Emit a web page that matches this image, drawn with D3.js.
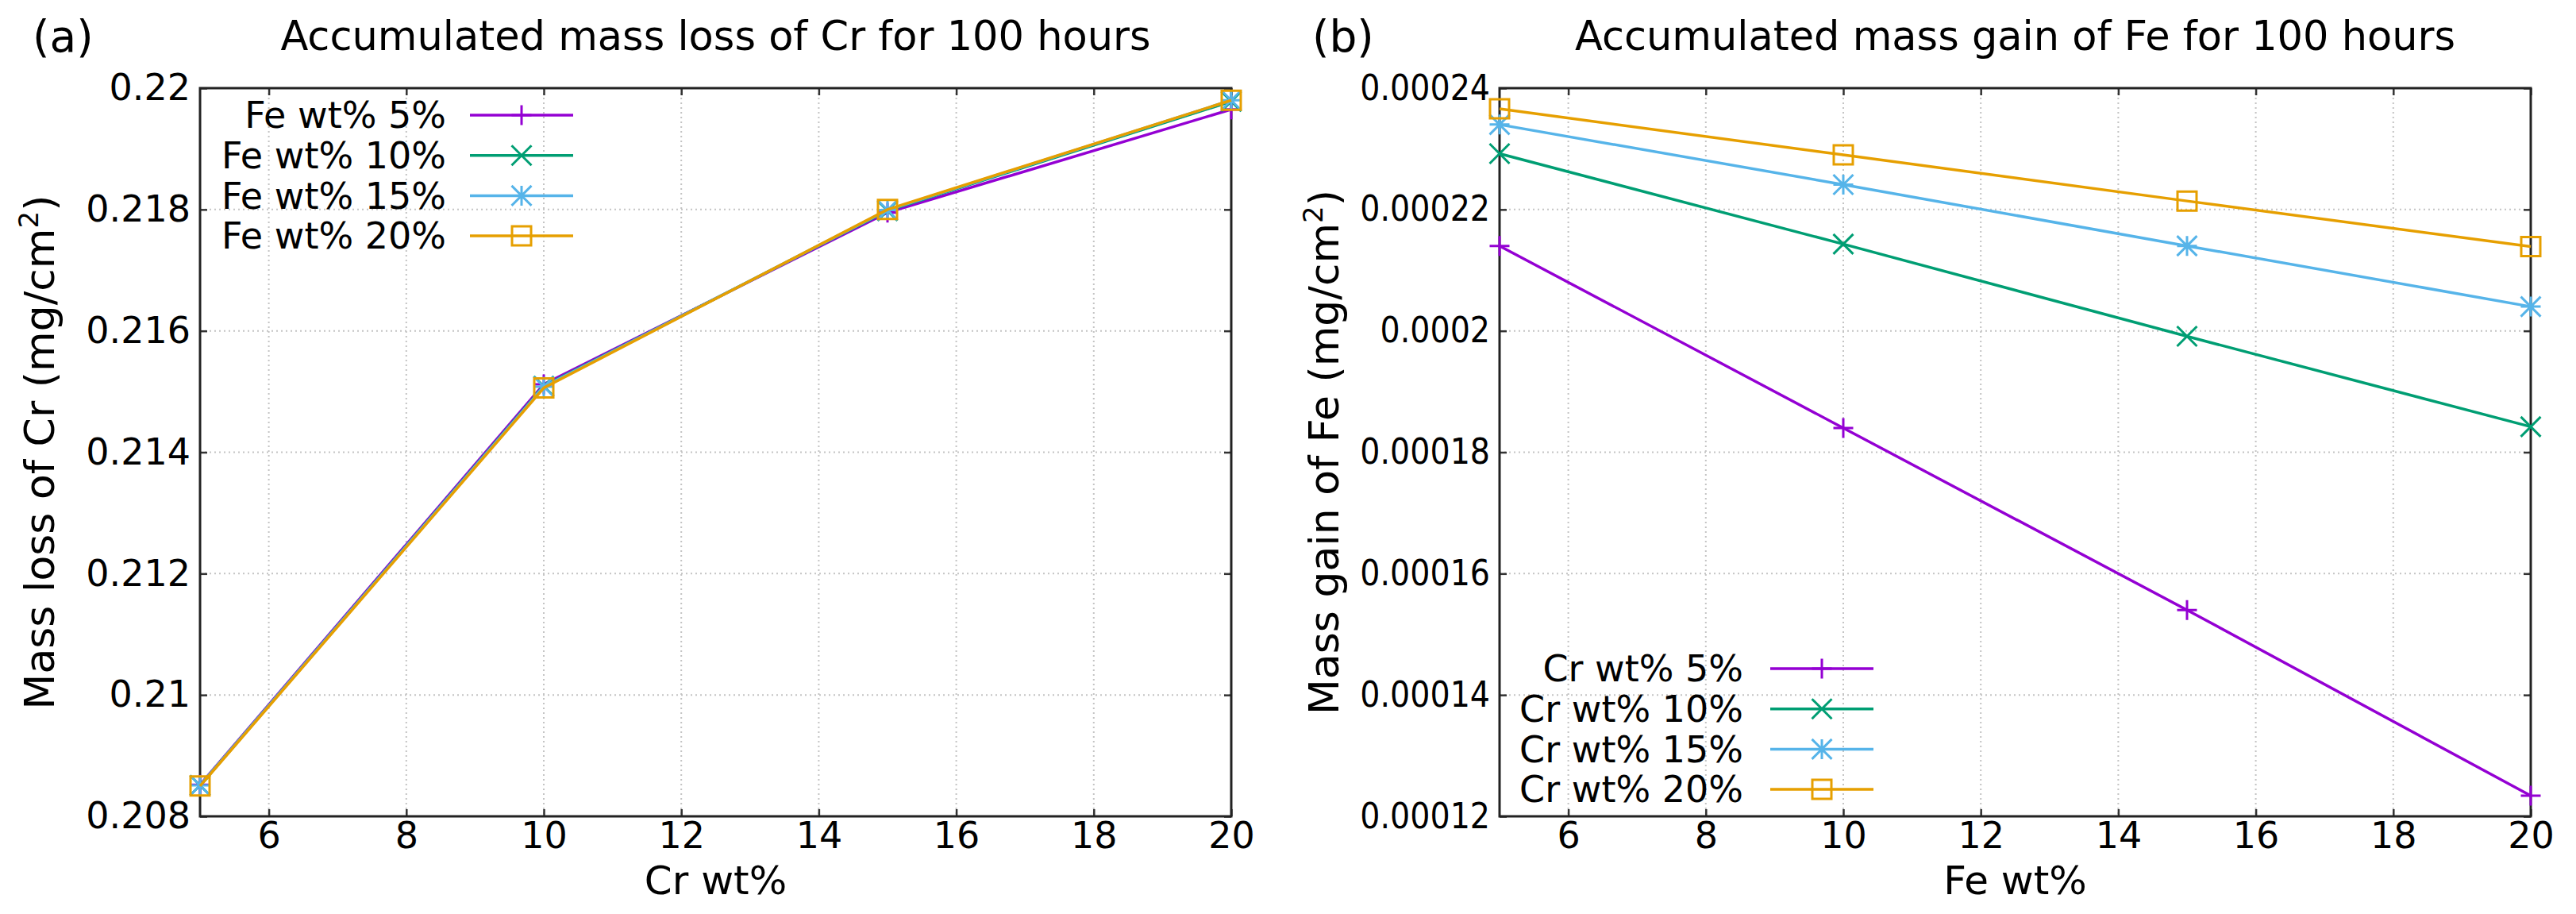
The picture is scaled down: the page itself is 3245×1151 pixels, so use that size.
<!DOCTYPE html>
<html>
<head>
<meta charset="utf-8">
<script src="https://cdn.jsdelivr.net/npm/d3@7"></script>
<style>
body{margin:0;background:#fff;}
text{font-family:"DejaVu Sans",sans-serif;fill:#000;}
</style>
</head>
<body>
<svg id="chart" width="3245" height="1151"></svg>
<script>
// x values shared by both panels (wt%)
const xValues=[5,10,15,20];
const xTicks=[6,8,10,12,14,16,18,20];

// (a) mass loss of Cr
const lossNames=["Fe wt% 5%","Fe wt% 10%","Fe wt% 15%","Fe wt% 20%"];
const lossFe5=[0.20852,0.21512,0.21795,0.21965];
const lossFe10=[0.20851,0.21509,0.21798,0.21978];
const lossFe15=[0.20851,0.21508,0.21799,0.21980];
const lossFe20=[0.20850,0.21506,0.21800,0.21980];
const lossTicks=[0.208,0.21,0.212,0.214,0.216,0.218,0.22];
const lossTickLabels=["0.208","0.21","0.212","0.214","0.216","0.218","0.22"];

// (b) mass gain of Fe
const gainNames=["Cr wt% 5%","Cr wt% 10%","Cr wt% 15%","Cr wt% 20%"];
const gainCr5=[0.000214,0.000184,0.000154,0.0001234];
const gainCr10=[0.0002292,0.0002143,0.0001991,0.0001842];
const gainCr15=[0.000234,0.0002241,0.000214,0.000204];
const gainCr20=[0.0002366,0.000229,0.0002214,0.0002139];
const gainTicks=[0.00012,0.00014,0.00016,0.00018,0.0002,0.00022,0.00024];
const gainTickLabels=["0.00012","0.00014","0.00016","0.00018","0.0002","0.00022","0.00024"];

const colors=['#9400d3','#009e73','#56b4e9','#e69f00'];
const symbols=['plus','cross','star','square'];

const svg=d3.select('#chart');

function symbolPath(kind,r){
  if(kind==='plus') return `M${-r},0H${r}M0,${-r}V${r}`;
  if(kind==='cross') return `M${-r},${-r}L${r},${r}M${-r},${r}L${r},${-r}`;
  if(kind==='star') return `M${-r},0H${r}M0,${-r}V${r}M${-r},${-r}L${r},${r}M${-r},${r}L${r},${-r}`;
  return `M${-r},${-r}H${r}V${r}H${-r}Z`;
}

function drawPanel(p){
  const x=d3.scaleLinear().domain([5,20]).range([p.left,p.right]);
  const y=d3.scaleLinear().domain(p.yDomain).range([p.bottom,p.top]);
  const g=svg.append('g');

  // grid
  g.selectAll('.gx').data(xTicks.filter(t=>t<20)).join('line')
    .attr('x1',d=>x(d)).attr('x2',d=>x(d)).attr('y1',p.top).attr('y2',p.bottom)
    .attr('stroke','#c4c4c4').attr('stroke-width',2).attr('stroke-dasharray','2,4');
  g.selectAll('.gy').data(p.yTicks.slice(1,-1)).join('line')
    .attr('x1',p.left).attr('x2',p.right).attr('y1',d=>y(d)).attr('y2',d=>y(d))
    .attr('stroke','#c4c4c4').attr('stroke-width',2).attr('stroke-dasharray','2,4');

  // axes with inward ticks, mirrored
  const ax=d3.axisBottom(x).tickValues(xTicks).tickSize(-9).tickPadding(7).tickFormat(d3.format('d'));
  const axTop=d3.axisTop(x).tickValues(xTicks).tickSize(-9).tickFormat('');
  const ay=d3.axisLeft(y).tickValues(p.yTicks).tickSize(-9).tickPadding(12).tickFormat((d,i)=>p.yLabels[i]);
  const ayRight=d3.axisRight(y).tickValues(p.yTicks).tickSize(-9).tickFormat('');

  const gx=g.append('g').attr('transform',`translate(0,${p.bottom})`).call(ax);
  g.append('g').attr('transform',`translate(0,${p.top})`).call(axTop);
  const gy=g.append('g').attr('transform',`translate(${p.left},0)`).call(ay);
  g.append('g').attr('transform',`translate(${p.right},0)`).call(ayRight);
  g.selectAll('.domain').remove();
  g.selectAll('.tick line').attr('stroke','#333').attr('stroke-width',2.5);
  gx.selectAll('text').attr('font-size',46).attr('font-family','DejaVu Sans').attr('fill','#000');
  gy.selectAll('text').attr('font-size',p.yFontSize).attr('font-family',p.yFont)
    .attr('font-stretch',p.yStretch).attr('fill','#000');

  // frame
  g.append('rect').attr('x',p.left).attr('y',p.top)
    .attr('width',p.right-p.left).attr('height',p.bottom-p.top)
    .attr('fill','none').attr('stroke','#222').attr('stroke-width',3);

  // series
  const line=d3.line().x((d,i)=>x(xValues[i])).y(d=>y(d));
  p.series.forEach((s,k)=>{
    g.append('path').attr('d',line(s)).attr('fill','none')
      .attr('stroke',colors[k]).attr('stroke-width',3.5);
    g.selectAll(null).data(s).join('path')
      .attr('transform',(d,i)=>`translate(${x(xValues[i])},${y(d)})`)
      .attr('d',symbolPath(symbols[k],symbols[k]==='square'?12:12.5))
      .attr('fill','none').attr('stroke',colors[k]).attr('stroke-width',3);
  });

  // legend
  p.names.forEach((n,k)=>{
    const ly=p.legendY+k*50.7;
    g.append('text').attr('x',p.legendTextX).attr('y',ly).attr('dy','0.35em')
      .attr('text-anchor','end').attr('font-size',46).text(n);
    g.append('line').attr('x1',p.legendLineX).attr('x2',p.legendLineX+130)
      .attr('y1',ly).attr('y2',ly).attr('stroke',colors[k]).attr('stroke-width',3.5);
    g.append('path').attr('transform',`translate(${p.legendLineX+65},${ly})`)
      .attr('d',symbolPath(symbols[k],symbols[k]==='square'?12:12.5))
      .attr('fill','none').attr('stroke',colors[k]).attr('stroke-width',3);
  });

  // titles
  g.append('text').attr('x',(p.left+p.right)/2).attr('y',63)
    .attr('text-anchor','middle').attr('font-size',51).text(p.title);
  g.append('text').attr('x',(p.left+p.right)/2).attr('y',1126)
    .attr('text-anchor','middle').attr('font-size',50).text(p.xTitle);
  const yt=g.append('text').attr('transform',`translate(${p.yTitleX},${(p.top+p.bottom)/2}) rotate(-90)`)
    .attr('text-anchor','middle').attr('font-size',52);
  yt.append('tspan').text(p.yTitle+' (mg/cm');
  yt.append('tspan').attr('font-size',34).attr('dy',-20).text('2');
  yt.append('tspan').attr('dy',20).text(')');
  g.append('text').attr('x',p.labelX).attr('y',65).attr('font-size',55)
    .attr('font-family','Noto Sans').text(p.label);
}

drawPanel({
  left:252,right:1551,top:111,bottom:1028,
  yDomain:[0.208,0.22],yTicks:lossTicks,yLabels:lossTickLabels,
  yFont:'DejaVu Sans',yFontSize:46,yStretch:'normal',
  series:[lossFe5,lossFe10,lossFe15,lossFe20],names:lossNames,
  legendY:145,legendTextX:562,legendLineX:592,
  title:'Accumulated mass loss of Cr for 100 hours',xTitle:'Cr wt%',
  yTitle:'Mass loss of Cr',yTitleX:68,label:'(a)',labelX:41
});

drawPanel({
  left:1889,right:3188,top:111,bottom:1028,
  yDomain:[0.00012,0.00024],yTicks:gainTicks,yLabels:gainTickLabels,
  yFont:'DejaVu Sans Condensed, DejaVu Sans',yFontSize:44,yStretch:'condensed',
  series:[gainCr5,gainCr10,gainCr15,gainCr20],names:gainNames,
  legendY:842,legendTextX:2196,legendLineX:2230,
  title:'Accumulated mass gain of Fe for 100 hours',xTitle:'Fe wt%',
  yTitle:'Mass gain of Fe',yTitleX:1686,label:'(b)',labelX:1653
});
</script>
</body>
</html>
